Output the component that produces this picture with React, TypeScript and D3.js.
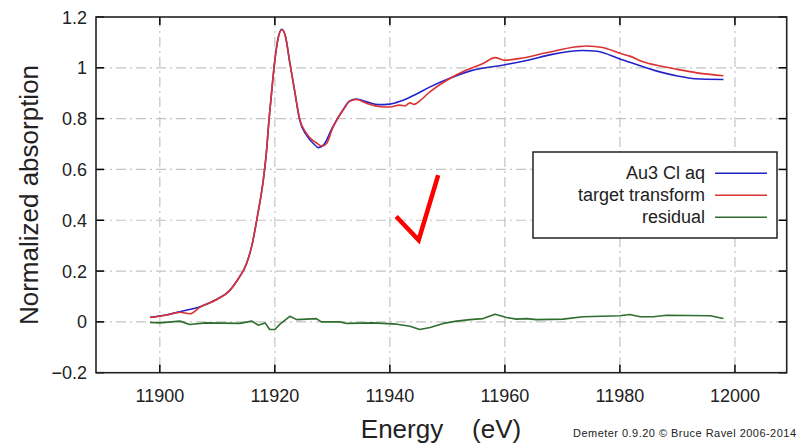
import React from "react";
import * as d3 from "d3";

// Au L3-edge XANES: reference spectrum, target-transform reconstruction and residual
const auEnergy = [
  11898.3, 11901, 11904, 11907, 11910, 11912, 11913.5, 11915, 11916, 11917, 11918,
  11918.5, 11919, 11919.5, 11920, 11920.6, 11921.2, 11921.8, 11922.6, 11923.5, 11924.3,
  11925.5, 11926.7, 11927.6, 11928.6, 11930, 11932, 11933, 11934.2, 11936, 11938, 11940,
  11942, 11944, 11947, 11950, 11954, 11960, 11964, 11968, 11973.5, 11976, 11980, 11986,
  11990, 11993, 11998,
];
const auValues = [
  0.018, 0.027, 0.043, 0.06, 0.09, 0.12, 0.165, 0.225, 0.3, 0.42, 0.56,
  0.66, 0.8, 0.92, 1.03, 1.12, 1.152, 1.128, 1.02, 0.9, 0.795,
  0.735, 0.702, 0.686, 0.7, 0.765, 0.84, 0.87, 0.877, 0.866, 0.855, 0.857,
  0.87, 0.89, 0.925, 0.955, 0.988, 1.012, 1.03, 1.052, 1.068, 1.065, 1.035, 0.99,
  0.968, 0.957, 0.954,
];

const ttEnergy = [
  11898.3, 11901, 11903.5, 11905.2, 11907, 11910, 11912, 11913.5, 11915, 11916, 11917,
  11918, 11918.5, 11919, 11919.5, 11920, 11920.6, 11921.2, 11921.8, 11922.6, 11923.5,
  11924.3, 11925.5, 11926.7, 11927.2, 11928.2, 11929, 11930, 11932, 11933, 11934.2, 11936,
  11938, 11940, 11941.7, 11942.6, 11943.5, 11944.2, 11945.2, 11947, 11950, 11953.3,
  11956.2, 11958.3, 11960, 11962.6, 11967.2, 11972.5, 11974.2, 11977, 11980, 11981.7,
  11984, 11987, 11990, 11994, 11998,
];
const ttValues = [
  0.017, 0.026, 0.038, 0.032, 0.058, 0.089, 0.12, 0.165, 0.225, 0.3, 0.42,
  0.56, 0.66, 0.8, 0.92, 1.03, 1.12, 1.15, 1.127, 1.02, 0.902,
  0.8, 0.742, 0.712, 0.705, 0.692, 0.702, 0.76, 0.838, 0.868, 0.875, 0.86,
  0.848, 0.846, 0.853, 0.85, 0.862, 0.856, 0.87, 0.906, 0.952, 0.991,
  1.017, 1.04, 1.03, 1.037, 1.059, 1.083, 1.086, 1.08, 1.057, 1.046,
  1.024, 1.007, 0.994, 0.978, 0.969,
];

const resEnergy = [
  11898.3, 11900, 11903.5, 11905.2, 11908, 11913.9, 11916, 11917.1, 11918.3, 11919.1,
  11920, 11920.9, 11922.6, 11923.8, 11927.2, 11928.1, 11931.3, 11932.5, 11937.1, 11941.2,
  11943.5, 11945.2, 11947, 11949.3, 11951.6, 11953.9, 11956.2, 11958.3, 11960.3, 11962,
  11963.8, 11965.5, 11970.1, 11973.6, 11980, 11981.7, 11983.5, 11985.8, 11988.1, 11995.7,
  11998,
];
const resValues = [
  -0.002, -0.004, 0.003, -0.01, -0.004, -0.006, 0.003, -0.013, -0.004, -0.03,
  -0.03, -0.009, 0.022, 0.009, 0.013, 0.0, 0.0, -0.006, -0.004, -0.009,
  -0.017, -0.03, -0.022, -0.006, 0.003, 0.009, 0.013, 0.03, 0.017, 0.011,
  0.013, 0.009, 0.011, 0.02, 0.024, 0.029, 0.02, 0.02, 0.026, 0.024,
  0.013,
];

const xTicks = [11900, 11920, 11940, 11960, 11980, 12000];
const yTicks = [-0.2, 0, 0.2, 0.4, 0.6, 0.8, 1, 1.2];
const seriesNames = ["Au3 Cl aq", "target transform", "residual"];
const seriesColors = ["#2323c8", "#dc3232", "#2f6e2f"];

// check-mark annotation, in data coordinates
const checkE = [11941.1, 11945.0, 11948.4];
const checkV = [0.415, 0.322, 0.578];

const W = 798;
const H = 447;
const plot = { left: 96, right: 786.7, top: 17, bottom: 372.7 };

export default function App() {
  const x = d3.scaleLinear().domain([11888.9, 12009]).range([plot.left, plot.right]);
  const y = d3.scaleLinear().domain([-0.2, 1.2]).range([plot.bottom, plot.top]);

  const smooth = d3
    .line<[number, number]>()
    .x((d) => x(d[0]))
    .y((d) => y(d[1]))
    .curve(d3.curveMonotoneX);
  const straight = d3
    .line<[number, number]>()
    .x((d) => x(d[0]))
    .y((d) => y(d[1]));

  const zip = (a: number[], b: number[]) => a.map((v, i) => [v, b[i]] as [number, number]);
  const paths = [
    smooth(zip(auEnergy, auValues)),
    smooth(zip(ttEnergy, ttValues)),
    straight(zip(resEnergy, resValues)),
  ];

  const font = "'Liberation Sans', Arial, sans-serif";
  const gridDash = "10,4,2,4";
  const tickLen = 8;

  const legend = { x0: 533, x1: 777, y0: 152, y1: 238, textX: 705, lx0: 715, lx1: 767, firstY: 173.3, step: 22 };

  return (
    <svg
      width={W}
      height={H}
      style={{ position: "absolute", left: 0, top: 0, background: "#fff" }}
      fontFamily={font}
    >
      <rect x={0} y={0} width={W} height={H} fill="#fff" />

      {/* grid */}
      {xTicks.map((t) => (
        <line key={"gx" + t} x1={x(t)} x2={x(t)} y1={plot.top} y2={plot.bottom} stroke="#c4c4c4" strokeWidth={1.2} strokeDasharray={gridDash} />
      ))}
      {yTicks.slice(1, -1).map((t) => (
        <line key={"gy" + t} x1={plot.left} x2={plot.right} y1={y(t)} y2={y(t)} stroke="#c4c4c4" strokeWidth={1.2} strokeDasharray={gridDash} />
      ))}

      {/* ticks on all four sides, pointing inward */}
      {xTicks.map((t) => (
        <g key={"tx" + t}>
          <line x1={x(t)} x2={x(t)} y1={plot.bottom} y2={plot.bottom - tickLen} stroke="#000" strokeWidth={1.5} />
          <line x1={x(t)} x2={x(t)} y1={plot.top} y2={plot.top + tickLen} stroke="#000" strokeWidth={1.5} />
          <text x={x(t)} y={plot.bottom + 29} textAnchor="middle" fontSize={18} fill="#222">
            {t}
          </text>
        </g>
      ))}
      {yTicks.map((t) => (
        <g key={"ty" + t}>
          <line x1={plot.left} x2={plot.left + tickLen} y1={y(t)} y2={y(t)} stroke="#000" strokeWidth={1.5} />
          <line x1={plot.right} x2={plot.right - tickLen} y1={y(t)} y2={y(t)} stroke="#000" strokeWidth={1.5} />
          <text x={87} y={y(t) + 6.5} textAnchor="end" fontSize={18} fill="#222">
            {d3.format("")(+t.toFixed(1))}
          </text>
        </g>
      ))}

      {/* series */}
      {paths.map((p, i) => (
        <path key={"s" + i} d={p || ""} fill="none" stroke={seriesColors[i]} strokeWidth={1.6} strokeLinejoin="round" />
      ))}

      {/* frame */}
      <rect x={plot.left} y={plot.top} width={plot.right - plot.left} height={plot.bottom - plot.top} fill="none" stroke="#222" strokeWidth={1.6} />

      {/* legend */}
      <rect x={legend.x0} y={legend.y0} width={legend.x1 - legend.x0} height={legend.y1 - legend.y0} fill="#fff" stroke="#222" strokeWidth={1.5} />
      {seriesNames.map((n, i) => {
        const ly = legend.firstY + i * legend.step;
        return (
          <g key={"lg" + i}>
            <text x={legend.textX} y={ly + 6} textAnchor="end" fontSize={18} fill="#222">
              {n}
            </text>
            <line x1={legend.lx0} x2={legend.lx1} y1={ly} y2={ly} stroke={seriesColors[i]} strokeWidth={1.6} />
          </g>
        );
      })}

      {/* check mark */}
      <path
        d={d3.line()(checkE.map((e, i) => [x(e), y(checkV[i])] as [number, number])) || ""}
        fill="none"
        stroke="#ff0000"
        strokeWidth={4.5}
        strokeLinejoin="miter"
      />

      {/* axis titles */}
      <text
        transform={`translate(38,195) rotate(-90)`}
        textAnchor="middle"
        fontSize={26}
        fill="#222"
      >
        Normalized absorption
      </text>
      <text x={441} y={438} textAnchor="middle" fontSize={26} fill="#222" style={{ whiteSpace: "pre" }}>
        {"Energy    (eV)"}
      </text>

      {/* credit */}
      <text x={573} y={437} fontSize={11} fill="#222" textLength={223} lengthAdjust="spacing">
        Demeter 0.9.20 © Bruce Ravel 2006-2014
      </text>
    </svg>
  );
}
